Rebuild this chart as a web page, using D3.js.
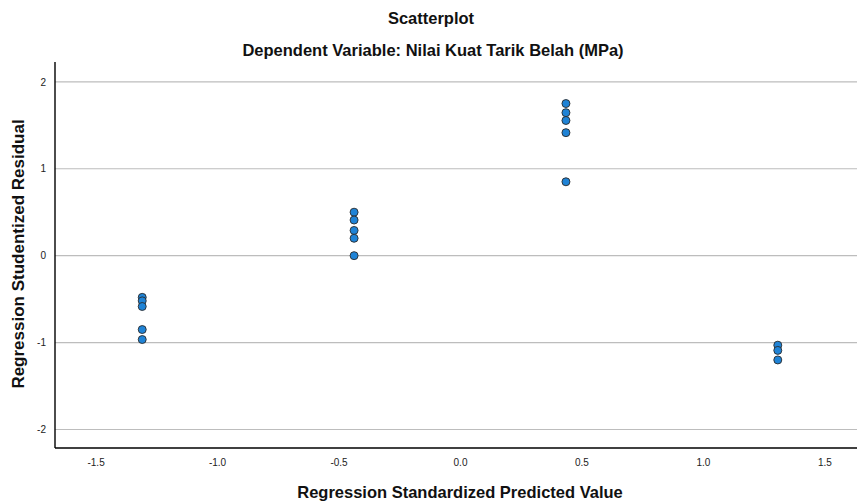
<!DOCTYPE html>
<html><head><meta charset="utf-8">
<script src="https://cdn.jsdelivr.net/npm/d3@7"></script>
<style>body{margin:0;background:#fff}svg{display:block}text{font-family:"Liberation Sans",Arial,sans-serif}</style>
</head><body>
<script>
const predicted = [-1.308,-1.308,-1.308,-1.308,-1.308,
  -0.436,-0.436,-0.436,-0.436,-0.436,
  0.436,0.436,0.436,0.436,0.436,
  1.308,1.308,1.308];
const residual = [-0.48,-0.52,-0.585,-0.85,-0.965,
  0.50,0.41,0.29,0.20,0.0,
  1.75,1.645,1.555,1.415,0.85,
  -1.03,-1.09,-1.20];
const xTicks = [-1.5,-1.0,-0.5,0.0,0.5,1.0,1.5];
const yTicks = [-2,-1,0,1,2];
const title = "Scatterplot";
const subtitle = "Dependent Variable: Nilai Kuat Tarik Belah (MPa)";
const xTitle = "Regression Standardized Predicted Value";
const yTitle = "Regression Studentized Residual";

const W=857,H=502;
const L=55,R=857,T=62,B=448;
const svg=d3.select("body").append("svg").attr("width",W).attr("height",H);
const x=d3.scaleLinear().domain([-1.667,1.634]).range([L,R]);
const y=d3.scaleLinear().domain([-2.213,2.228]).range([B,T]);
const hy=f=>d=>f(d).replace("\u2212","-");

// gridlines
svg.append("g").selectAll("line").data(yTicks).join("line")
  .attr("x1",L).attr("x2",R).attr("y1",d=>y(d)).attr("y2",d=>y(d))
  .attr("stroke","#bdbdbd").attr("stroke-width",1.2);

// axes
const yAxis=svg.append("g").attr("transform",`translate(${L},0)`)
  .call(d3.axisLeft(y).tickValues(yTicks).tickSize(0).tickPadding(9).tickFormat(hy(d3.format("d"))));
yAxis.select(".domain").attr("stroke","#000").attr("stroke-width",1.4).attr("d",`M0,${T}V${B}`);
yAxis.selectAll("text").attr("font-size",10).attr("fill","#222");

const xAxis=svg.append("g").attr("transform",`translate(0,${B})`)
  .call(d3.axisBottom(x).tickValues(xTicks).tickSize(0).tickPadding(11).tickFormat(hy(d3.format(".1f"))));
xAxis.select(".domain").attr("stroke","#000").attr("stroke-width",1.4).attr("d",`M${L},0H${R}`);
xAxis.selectAll("text").attr("font-size",10).attr("fill","#222");

// points
svg.append("g").selectAll("circle").data(predicted.map((p,i)=>[p,residual[i]])).join("circle")
  .attr("cx",d=>x(d[0])).attr("cy",d=>y(d[1])).attr("r",4)
  .attr("fill","#1f83d6").attr("stroke","#2a2a2a").attr("stroke-width",0.9);

// titles
svg.append("text").attr("x",431).attr("y",24).attr("text-anchor","middle")
  .attr("font-size",16.5).attr("font-weight","bold").attr("fill","#111").text(title);
svg.append("text").attr("x",433).attr("y",56).attr("text-anchor","middle")
  .attr("font-size",16.5).attr("font-weight","bold").attr("fill","#111").text(subtitle);
svg.append("text").attr("x",460).attr("y",498).attr("text-anchor","middle")
  .attr("font-size",16.5).attr("font-weight","bold").attr("fill","#111").text(xTitle);
svg.append("text").attr("transform","translate(24,254) rotate(-90)").attr("text-anchor","middle")
  .attr("font-size",17).attr("font-weight","bold").attr("fill","#111").text(yTitle);
</script>
</body></html>
